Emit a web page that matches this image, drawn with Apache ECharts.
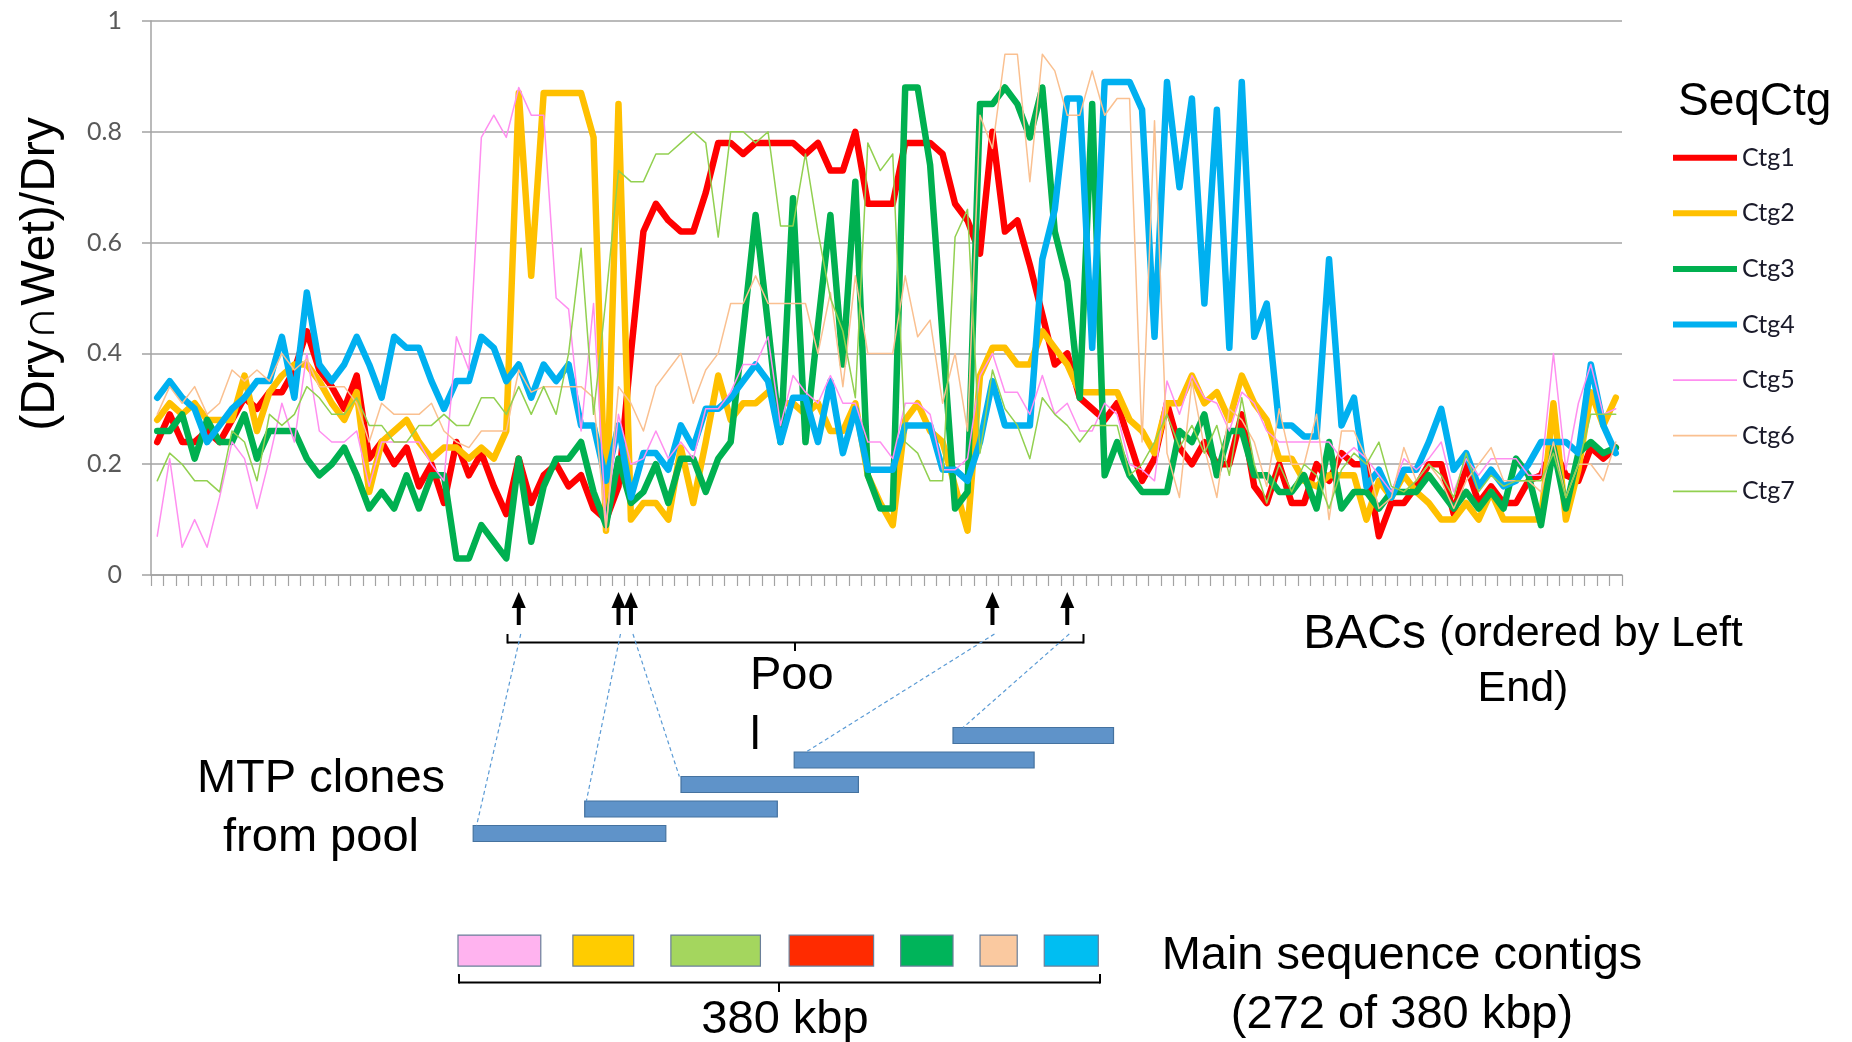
<!DOCTYPE html>
<html>
<head>
<meta charset="utf-8">
<script src="https://cdn.jsdelivr.net/npm/echarts@6/dist/echarts.min.js"></script>
<style>
  html, body { margin: 0; padding: 0; background: #ffffff; }
  #chart { width: 1852px; height: 1042px; }
</style>
</head>
<body>
<div id="chart"></div>
<script>
// BACs ordered by left end (118 clones)
const bacLabels = Array.from({ length: 118 }, (_, i) => 'BAC' + (i + 1));

// (Dry∩Wet)/Dry ratio of each BAC against each sequence contig
const ctg1 = [0.24,0.29,0.24,0.24,0.26,0.24,0.28,0.32,0.30,0.33, 0.33,0.37,0.44,0.37,0.34,0.30,0.36,0.21,0.24,0.20,
  0.23,0.16,0.20,0.13,0.24,0.18,0.22,0.16,0.11,0.21, 0.13,0.18,0.20,0.16,0.18,0.12,0.10,0.16,0.40,0.62,
  0.67,0.64,0.62,0.62,0.69,0.78,0.78,0.76,0.78,0.78, 0.78,0.78,0.76,0.78,0.73,0.73,0.80,0.67,0.67,0.67,
  0.78,0.78,0.78,0.76,0.67,0.64,0.58,0.80,0.62,0.64, 0.56,0.47,0.38,0.40,0.32,0.30,0.28,0.31,0.24,0.17,
  0.21,0.31,0.23,0.20,0.24,0.20,0.20,0.29,0.16,0.13, 0.20,0.13,0.13,0.20,0.17,0.22,0.20,0.20,0.07,0.13,
  0.13,0.16,0.20,0.20,0.11,0.20,0.13,0.16,0.13,0.13, 0.17,0.18,0.23,0.18,0.17,0.23,0.21,0.23];
const ctg2 = [0.28,0.31,0.29,0.31,0.28,0.28,0.28,0.36,0.26,0.33, 0.36,0.38,0.38,0.35,0.31,0.28,0.33,0.15,0.24,0.26,
  0.28,0.24,0.21,0.23,0.23,0.21,0.23,0.21,0.26,0.87, 0.54,0.87,0.87,0.87,0.87,0.79,0.08,0.85,0.10,0.13,
  0.13,0.10,0.23,0.13,0.24,0.36,0.28,0.31,0.31,0.33, 0.31,0.31,0.29,0.31,0.26,0.26,0.31,0.18,0.13,0.09,
  0.28,0.31,0.26,0.24,0.16,0.08,0.36,0.41,0.41,0.38, 0.38,0.44,0.41,0.38,0.33,0.33,0.33,0.33,0.28,0.26,
  0.22,0.31,0.31,0.36,0.31,0.33,0.28,0.36,0.31,0.28, 0.21,0.21,0.17,0.16,0.18,0.18,0.18,0.10,0.17,0.14,
  0.18,0.15,0.13,0.10,0.10,0.13,0.10,0.15,0.10,0.10, 0.10,0.10,0.31,0.10,0.19,0.33,0.27,0.32];
const ctg3 = [0.26,0.26,0.29,0.21,0.28,0.24,0.24,0.29,0.21,0.26, 0.26,0.26,0.21,0.18,0.20,0.23,0.18,0.12,0.15,0.12,
  0.18,0.12,0.18,0.18,0.03,0.03,0.09,0.06,0.03,0.21, 0.06,0.16,0.21,0.21,0.24,0.15,0.09,0.21,0.13,0.15,
  0.20,0.13,0.21,0.21,0.15,0.21,0.24,0.44,0.65,0.45, 0.24,0.68,0.24,0.45,0.65,0.38,0.71,0.18,0.12,0.12,
  0.88,0.88,0.74,0.43,0.12,0.15,0.85,0.85,0.88,0.85, 0.79,0.88,0.62,0.53,0.32,0.85,0.18,0.24,0.18,0.15,
  0.15,0.15,0.26,0.24,0.29,0.18,0.26,0.26,0.18,0.18, 0.15,0.15,0.18,0.12,0.24,0.12,0.15,0.15,0.12,0.15,
  0.15,0.15,0.18,0.15,0.12,0.15,0.12,0.15,0.12,0.21, 0.18,0.09,0.23,0.12,0.22,0.24,0.22,0.23];
const ctg4 = [0.32,0.35,0.32,0.30,0.24,0.27,0.30,0.32,0.35,0.35, 0.43,0.32,0.51,0.38,0.35,0.38,0.43,0.38,0.32,0.43,
  0.41,0.41,0.35,0.30,0.35,0.35,0.43,0.41,0.35,0.38, 0.32,0.38,0.35,0.38,0.27,0.27,0.17,0.27,0.14,0.22,
  0.22,0.19,0.27,0.23,0.30,0.30,0.32,0.35,0.38,0.35, 0.24,0.32,0.32,0.24,0.35,0.22,0.30,0.19,0.19,0.19,
  0.27,0.27,0.27,0.19,0.19,0.17,0.24,0.35,0.27,0.27, 0.27,0.57,0.66,0.86,0.86,0.41,0.89,0.89,0.89,0.84,
  0.43,0.89,0.70,0.86,0.49,0.84,0.41,0.89,0.43,0.49, 0.27,0.27,0.25,0.25,0.57,0.27,0.32,0.16,0.19,0.14,
  0.19,0.19,0.24,0.30,0.19,0.22,0.16,0.19,0.16,0.17, 0.20,0.24,0.24,0.24,0.22,0.38,0.27,0.22];
const ctg5 = [0.07,0.21,0.05,0.10,0.05,0.14,0.24,0.21,0.12,0.21, 0.31,0.24,0.40,0.26,0.24,0.24,0.26,0.16,0.24,0.24,
  0.24,0.24,0.20,0.17,0.43,0.37,0.79,0.83,0.79,0.88, 0.83,0.83,0.50,0.48,0.26,0.49,0.09,0.29,0.20,0.21,
  0.26,0.21,0.24,0.21,0.30,0.30,0.33,0.38,0.38,0.43, 0.27,0.36,0.33,0.31,0.36,0.31,0.31,0.24,0.24,0.21,
  0.31,0.31,0.29,0.19,0.19,0.21,0.36,0.40,0.33,0.33, 0.29,0.36,0.29,0.31,0.26,0.26,0.31,0.29,0.20,0.19,
  0.17,0.35,0.29,0.36,0.32,0.31,0.26,0.33,0.31,0.26, 0.24,0.24,0.24,0.24,0.24,0.21,0.23,0.21,0.18,0.15,
  0.21,0.19,0.21,0.24,0.15,0.21,0.18,0.21,0.21,0.21, 0.18,0.18,0.40,0.19,0.31,0.38,0.29,0.30];
const ctg6 = [0.29,0.34,0.31,0.34,0.29,0.31,0.37,0.35,0.37,0.35, 0.40,0.37,0.39,0.34,0.34,0.34,0.31,0.24,0.31,0.29,
  0.29,0.29,0.31,0.26,0.24,0.23,0.26,0.26,0.26,0.37, 0.33,0.34,0.34,0.34,0.34,0.32,0.08,0.34,0.31,0.26,
  0.34,0.37,0.40,0.31,0.37,0.40,0.49,0.49,0.54,0.49, 0.49,0.49,0.49,0.40,0.51,0.34,0.54,0.40,0.40,0.40,
  0.54,0.43,0.46,0.31,0.40,0.26,0.83,0.77,0.94,0.94, 0.71,0.94,0.91,0.83,0.83,0.91,0.83,0.86,0.86,0.24,
  0.82,0.22,0.14,0.35,0.23,0.14,0.30,0.28,0.24,0.16, 0.30,0.20,0.20,0.29,0.10,0.26,0.26,0.21,0.12,0.14,
  0.23,0.17,0.20,0.17,0.12,0.17,0.20,0.23,0.17,0.17, 0.17,0.15,0.24,0.14,0.20,0.20,0.17,0.24];
const ctg7 = [0.17,0.22,0.20,0.17,0.17,0.15,0.26,0.24,0.17,0.29, 0.27,0.29,0.34,0.32,0.29,0.29,0.32,0.27,0.27,0.24,
  0.24,0.27,0.27,0.29,0.27,0.27,0.32,0.32,0.29,0.34, 0.29,0.34,0.29,0.40,0.59,0.29,0.50,0.73,0.71,0.71,
  0.76,0.76,0.78,0.80,0.78,0.61,0.80,0.80,0.78,0.80, 0.63,0.63,0.76,0.62,0.50,0.44,0.32,0.78,0.73,0.76,
  0.24,0.22,0.17,0.17,0.61,0.66,0.22,0.37,0.30,0.27, 0.21,0.32,0.29,0.27,0.24,0.27,0.27,0.27,0.18,0.20,
  0.24,0.29,0.23,0.27,0.22,0.27,0.18,0.32,0.20,0.13, 0.20,0.15,0.20,0.18,0.12,0.19,0.22,0.20,0.24,0.16,
  0.15,0.17,0.20,0.18,0.14,0.22,0.15,0.18,0.16,0.17, 0.17,0.17,0.22,0.14,0.20,0.29,0.29,0.29];

const seriesNames = ['Ctg1', 'Ctg2', 'Ctg3', 'Ctg4', 'Ctg5', 'Ctg6', 'Ctg7'];
const seriesValues = [ctg1, ctg2, ctg3, ctg4, ctg5, ctg6, ctg7];
const yTicks = [0, 0.2, 0.4, 0.6, 0.8, 1];

// BACs of the pool (0-based position in the BAC order)
const poolBacIdx = [29, 37, 38, 67, 73];

// MTP clones from the pool, in kbp along the 380 kbp region
const cloneStartKbp = [9, 75, 132, 199, 293];
const cloneEndKbp   = [123, 189, 237, 341, 388];
const cloneLane     = [0, 1, 2, 3, 4];
const cloneLinkKbp  = [11, 76, 131, 206, 299];

// Main sequence contigs, in kbp along the 380 kbp region
const contigStartKbp = [0, 68, 126, 196, 262, 309, 347];
const contigEndKbp   = [49, 104, 179, 246, 293, 331, 379];
const contigLane = -4.78;
const regionKbp = 380;

// styles
const lineColors = ['#FF0000', '#FFC000', '#00B050', '#00B0F0', '#FF8FF0', '#FAC090', '#92D050'];
const lineWidths = [6.5, 6.5, 6.5, 6.5, 1.5, 1.5, 1.5];
const contigColors = ['#FFB3EF', '#FFCC00', '#A4D65E', '#FF2B00', '#00B45A', '#FAC9A0', '#00BEF2'];
const AXIS_GRAY = '#A3A3A3';
const FONT = '"Liberation Sans", Arial, sans-serif';

const chart = echarts.init(document.getElementById('chart'), null, { renderer: 'canvas' });

const lineSeries = seriesNames.map((name, k) => ({
  type: 'line',
  name: name,
  data: seriesValues[k],
  xAxisIndex: 0,
  yAxisIndex: 0,
  symbol: 'none',
  showSymbol: false,
  smooth: false,
  z: 2 + k,
  lineStyle: { color: lineColors[k], width: lineWidths[k], cap: 'round', join: 'round' },
  itemStyle: { color: lineColors[k] },
  emphasis: { disabled: true }
}));

// legend keys: plain strokes, thick for Ctg1-4 and thin for Ctg5-7
const legendData = seriesNames.map((name, k) => ({
  name: name,
  icon: k < 4 ? 'path://M0,0 L64,0 L64,6 L0,6 Z' : 'path://M0,0 L59,0 L59,1.7 L0,1.7 Z',
  itemStyle: { color: lineColors[k], borderWidth: 0 }
}));

const cloneSeries = {
  type: 'custom',
  xAxisIndex: 1,
  yAxisIndex: 1,
  silent: true,
  data: cloneStartKbp.map((s, k) => [s, cloneEndKbp[k], cloneLane[k]]),
  renderItem: function (params, api) {
    const a = api.coord([api.value(0), api.value(2)]);
    const b = api.coord([api.value(1), api.value(2)]);
    const h = 16;
    return {
      type: 'rect',
      shape: { x: a[0], y: a[1] - h / 2, width: b[0] - a[0], height: h },
      style: { fill: '#5F93C9', stroke: '#45729F', lineWidth: 1.2 }
    };
  }
};

const contigSeries = {
  type: 'custom',
  xAxisIndex: 1,
  yAxisIndex: 1,
  silent: true,
  data: contigStartKbp.map((s, k) => [s, contigEndKbp[k], contigLane, k]),
  renderItem: function (params, api) {
    const a = api.coord([api.value(0), api.value(2)]);
    const b = api.coord([api.value(1), api.value(2)]);
    const h = 31;
    return {
      type: 'rect',
      shape: { x: a[0], y: a[1] - h / 2, width: b[0] - a[0], height: h },
      style: { fill: contigColors[api.value(3)], stroke: '#6A7F99', lineWidth: 1.2 }
    };
  }
};

chart.setOption({
  animation: false,
  backgroundColor: '#ffffff',
  grid: [
    { left: 151, top: 21, right: 230, bottom: 467 },
    { left: 458, top: 711, width: 642, height: 257.25 }
  ],
  xAxis: [
    {
      type: 'category',
      gridIndex: 0,
      data: bacLabels,
      boundaryGap: true,
      axisLine: { show: true, lineStyle: { color: AXIS_GRAY, width: 1.5 } },
      axisTick: { show: true, interval: 0, length: 11, lineStyle: { color: AXIS_GRAY, width: 1.2 } },
      axisLabel: { show: false },
      splitLine: { show: false }
    },
    { type: 'value', gridIndex: 1, min: 0, max: regionKbp, show: false }
  ],
  yAxis: [
    {
      type: 'value',
      gridIndex: 0,
      min: yTicks[0],
      max: yTicks[yTicks.length - 1],
      interval: 0.2,
      axisLine: { show: true, lineStyle: { color: AXIS_GRAY, width: 1.5 } },
      axisTick: { show: true, length: 9, lineStyle: { color: AXIS_GRAY, width: 1.5 } },
      axisLabel: { margin: 29, fontSize: 25, fontFamily: 'Lato', color: '#595959' },
      splitLine: { show: true, lineStyle: { color: AXIS_GRAY, width: 1.5 } }
    },
    { type: 'value', gridIndex: 1, min: -5.5, max: 5, show: false }
  ],
  legend: {
    orient: 'vertical',
    left: 1668,
    top: 139.7,
    itemWidth: 64,
    itemHeight: 26,
    itemGap: 29.6,
    symbolKeepAspect: true,
    selectedMode: false,
    data: legendData,
    textStyle: { fontFamily: 'Lato', fontSize: 25, color: '#1A1A2A', lineHeight: 26 }
  },
  series: lineSeries.concat([cloneSeries, contigSeries])
});

// annotation layer: arrows, brackets, connectors and captions
function text(x, y, str, extra) {
  return {
    type: 'text', x: x, y: y, silent: true, z: 100,
    style: Object.assign({ text: str, fill: '#000000', font: '47px ' + FONT, align: 'left', verticalAlign: 'top' }, extra || {})
  };
}
function seg(x1, y1, x2, y2, style) {
  return { type: 'line', silent: true, z: 100, shape: { x1: x1, y1: y1, x2: x2, y2: y2 },
    style: Object.assign({ stroke: '#000000', lineWidth: 2 }, style || {}) };
}

const g = [];

// arrows under the pool BACs
const arrowX = poolBacIdx.map(i => chart.convertToPixel({ gridIndex: 0 }, [i, 0])[0]);
arrowX.forEach(x => {
  g.push({ type: 'rect', silent: true, z: 100, shape: { x: x - 2, y: 604, width: 4, height: 21 }, style: { fill: '#000' } });
  g.push({ type: 'polygon', silent: true, z: 100, shape: { points: [[x, 592], [x - 7, 608], [x + 7, 608]] }, style: { fill: '#000' } });
});

// pool bracket
g.push(seg(507.5, 642.5, 1083.5, 642.5));
g.push(seg(507.5, 643.5, 507.5, 634));
g.push(seg(1083.5, 643.5, 1083.5, 634));
g.push(seg(795, 642.5, 795, 651));

// dashed links from the pool BACs to their MTP clones
arrowX.forEach((x, k) => {
  const p = chart.convertToPixel({ xAxisIndex: 1, yAxisIndex: 1 }, [cloneLinkKbp[k], cloneLane[k]]);
  g.push(seg(x + 2, 634, p[0], p[1] - 8, { stroke: '#5B9BD5', lineWidth: 1.2, lineDash: [4, 3] }));
});

// 380 kbp bracket under the contigs
const b0 = chart.convertToPixel({ xAxisIndex: 1, yAxisIndex: 1 }, [0, contigLane])[0];
const b1 = chart.convertToPixel({ xAxisIndex: 1, yAxisIndex: 1 }, [regionKbp, contigLane])[0];
const bm = (b0 + b1) / 2;
g.push(seg(b0 + 1, 982.5, b1, 982.5));
g.push(seg(b0 + 1, 983.5, b0 + 1, 974));
g.push(seg(b1, 983.5, b1, 974));
g.push(seg(bm, 982.5, bm, 992));

// captions
g.push(text(750, 646, 'Poo\nl', { lineHeight: 60 }));
g.push(text(321, 750, 'MTP clones\nfrom pool', { align: 'center', lineHeight: 59 }));
g.push(text(bm + 6, 997, '380 kbp', { align: 'center' }));
g.push(text(1402, 927, 'Main sequence contigs\n(272 of 380 kbp)', { align: 'center', lineHeight: 59 }));
g.push({
  type: 'text', x: 1523, y: 607, silent: true, z: 100,
  style: {
    text: '{a|BACs }{b|(ordered by Left}\n{b|End)}',
    align: 'center', verticalAlign: 'top', fill: '#000',
    rich: {
      a: { fontSize: 48, fontFamily: FONT, lineHeight: 55, fill: '#000' },
      b: { fontSize: 43, fontFamily: FONT, lineHeight: 55, fill: '#000' }
    }
  }
});
g.push(text(1678, 79, 'SeqCtg', { font: '46px ' + FONT }));
g.push({
  type: 'text', x: 41, y: 274, rotation: Math.PI / 2, silent: true, z: 100,
  style: { text: '(Dry\u2229Wet)/Dry', fill: '#000', font: '48px ' + FONT, align: 'center', verticalAlign: 'middle' }
});

chart.setOption({ graphic: { elements: g } });
</script>
</body>
</html>
